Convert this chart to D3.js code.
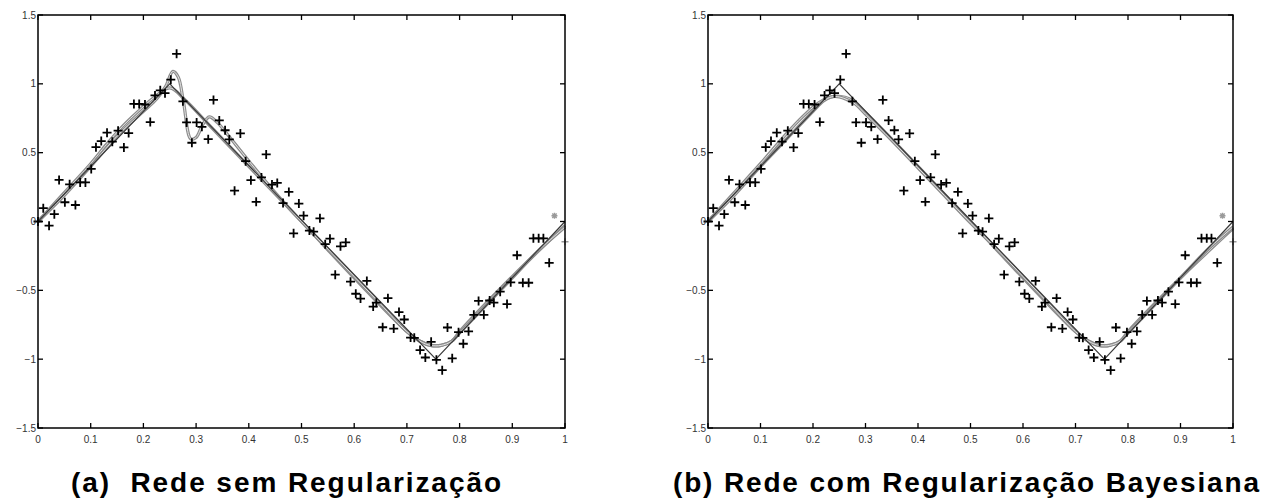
<!DOCTYPE html>
<html>
<head>
<meta charset="utf-8">
<script src="https://cdn.jsdelivr.net/npm/d3@7"></script>
<style>
  body { margin: 0; background: #fff; }
  svg { display: block; font-family: "Liberation Sans", Arial, sans-serif; }
</style>
</head>
<body>
<div id="wrapper"></div>
<script>
// training samples (same in both panels)
const sampleX = [0.000, 0.010, 0.021, 0.031, 0.040, 0.051, 0.060, 0.071, 0.080, 0.090,
  0.101, 0.110, 0.120, 0.131, 0.141, 0.152, 0.163, 0.172, 0.182, 0.192,
  0.203, 0.213, 0.222, 0.232, 0.241, 0.252, 0.263, 0.275, 0.282, 0.292,
  0.301, 0.311, 0.323, 0.333, 0.344, 0.355, 0.363, 0.373, 0.384, 0.394,
  0.404, 0.414, 0.424, 0.433, 0.444, 0.454, 0.465, 0.476, 0.485, 0.495,
  0.504, 0.515, 0.523, 0.535, 0.545, 0.554, 0.564, 0.574, 0.584, 0.593,
  0.603, 0.612, 0.624, 0.636, 0.642, 0.654, 0.664, 0.675, 0.685, 0.695,
  0.707, 0.714, 0.725, 0.735, 0.746, 0.756, 0.767, 0.777, 0.786, 0.798,
  0.807, 0.817, 0.827, 0.836, 0.846, 0.857, 0.865, 0.877, 0.890, 0.897,
  0.909, 0.920, 0.931, 0.940, 0.950, 0.959, 0.970]
const sampleY = [0.000, 0.097, -0.030, 0.053, 0.302, 0.140, 0.270, 0.120, 0.284, 0.284,
  0.382, 0.540, 0.584, 0.645, 0.580, 0.660, 0.538, 0.642, 0.854, 0.854,
  0.850, 0.722, 0.916, 0.953, 0.932, 1.030, 1.218, 0.873, 0.720, 0.572,
  0.720, 0.688, 0.598, 0.883, 0.734, 0.663, 0.596, 0.224, 0.640, 0.438,
  0.300, 0.143, 0.320, 0.487, 0.268, 0.280, 0.134, 0.215, -0.086, 0.130,
  0.042, -0.066, -0.074, 0.023, -0.165, -0.125, -0.386, -0.180, -0.152, -0.437,
  -0.525, -0.560, -0.432, -0.618, -0.590, -0.768, -0.557, -0.778, -0.658, -0.712,
  -0.843, -0.845, -0.934, -0.988, -0.874, -1.005, -1.080, -0.770, -0.994, -0.804,
  -0.888, -0.798, -0.678, -0.577, -0.678, -0.574, -0.590, -0.510, -0.600, -0.442,
  -0.245, -0.445, -0.445, -0.122, -0.122, -0.122, -0.300]
// grey markers at the right end
const greyX = [0.980, 1.000]
const greyY = [0.042, -0.147]

// target function (triangle)
const targetX = [0, 0.25, 0.755, 1]
const targetY = [0, 1, -1, 0]

// network outputs, panel (a)
const fitA1X = [0, 0.05, 0.10, 0.15, 0.20, 0.225, 0.242, 0.256, 0.266, 0.276, 0.29, 0.30, 0.312, 0.325, 0.34, 0.36, 0.40, 0.45, 0.50, 0.55, 0.60, 0.65, 0.70, 0.725, 0.745, 0.765, 0.785, 0.80, 0.85, 0.90, 0.95, 1.0]
const fitA1Y = [0, 0.19, 0.40, 0.62, 0.80, 0.89, 0.98, 1.09, 1.05, 0.87, 0.60, 0.61, 0.70, 0.76, 0.72, 0.63, 0.44, 0.21, 0.0, -0.2, -0.4, -0.6, -0.8, -0.87, -0.9, -0.9, -0.87, -0.81, -0.61, -0.41, -0.21, -0.04]
const fitA2X = [0, 0.05, 0.10, 0.13, 0.16, 0.19, 0.22, 0.25, 0.28, 0.32, 0.40, 0.50, 0.60, 0.70, 0.725, 0.745, 0.765, 0.785, 0.80, 0.90, 1.0]
const fitA2Y = [0, 0.21, 0.42, 0.56, 0.69, 0.80, 0.90, 0.97, 0.88, 0.72, 0.40, 0.0, -0.41, -0.80, -0.87, -0.9, -0.9, -0.87, -0.80, -0.40, -0.03]

// network outputs, panel (b)
const fitB1X = [0, 0.05, 0.10, 0.15, 0.20, 0.22, 0.235, 0.25, 0.265, 0.28, 0.30, 0.35, 0.40, 0.45, 0.50, 0.55, 0.60, 0.65, 0.70, 0.725, 0.745, 0.765, 0.785, 0.80, 0.85, 0.90, 0.95, 1.0]
const fitB1Y = [0, 0.19, 0.40, 0.60, 0.80, 0.875, 0.905, 0.905, 0.885, 0.855, 0.78, 0.59, 0.39, 0.19, -0.01, -0.2, -0.4, -0.6, -0.8, -0.87, -0.9, -0.9, -0.87, -0.81, -0.61, -0.41, -0.21, -0.04]
const fitB2X = [0, 0.05, 0.10, 0.15, 0.18, 0.21, 0.23, 0.25, 0.27, 0.30, 0.40, 0.50, 0.60, 0.70, 0.725, 0.745, 0.765, 0.785, 0.80, 0.90, 1.0]
const fitB2Y = [0, 0.21, 0.42, 0.64, 0.76, 0.86, 0.90, 0.91, 0.89, 0.79, 0.40, 0.0, -0.41, -0.80, -0.87, -0.9, -0.9, -0.87, -0.80, -0.41, -0.05]

const xTicks = [0, 0.1, 0.2, 0.3, 0.4, 0.5, 0.6, 0.7, 0.8, 0.9, 1]
const xTickLabels = ['0', '0.1', '0.2', '0.3', '0.4', '0.5', '0.6', '0.7', '0.8', '0.9', '1']
const yTicks = [-1.5, -1, -0.5, 0, 0.5, 1, 1.5]
const yTickLabels = ['\u22121.5', '\u22121', '\u22120.5', '0', '0.5', '1', '1.5']
const captions = ['(a)\u00a0 Rede sem Regularização', '(b) Rede com Regularização Bayesiana']

const width = 1273
const height = 503

const svg = d3.select('#wrapper').append('svg')
  .attr('width', width)
  .attr('height', height)

const panels = [
  { left: 38, right: 565, fits: [[fitA2X, fitA2Y], [fitA1X, fitA1Y]], caption: captions[0], capX: 71, capW: 430 },
  { left: 708, right: 1233, fits: [[fitB2X, fitB2Y], [fitB1X, fitB1Y]], caption: captions[1], capX: 673, capW: 586 },
]

const plotTop = 15
const plotBottom = 428
const tickLen = 5

const zip = (a, b) => a.map((v, i) => [v, b[i]])

panels.forEach(p => {
  const x = d3.scaleLinear().domain([0, 1]).range([p.left, p.right])
  const y = d3.scaleLinear().domain([-1.5, 1.5]).range([plotBottom, plotTop])
  const g = svg.append('g')

  const line = d3.line()
    .x(d => x(d[0]))
    .y(d => y(d[1]))
    .curve(d3.curveCatmullRom.alpha(0.5))

  // fits drawn as grey "tubes"
  p.fits.forEach(f => {
    const pts = zip(f[0], f[1])
    g.append('path').attr('d', line(pts))
      .attr('fill', 'none').attr('stroke', '#8c8c8c').attr('stroke-width', 3.2)
    g.append('path').attr('d', line(pts))
      .attr('fill', 'none').attr('stroke', '#e4e4e4').attr('stroke-width', 1)
  })

  // target
  g.append('path')
    .attr('d', d3.line().x(d => x(d[0])).y(d => y(d[1]))(zip(targetX, targetY)))
    .attr('fill', 'none').attr('stroke', '#3a3a3a').attr('stroke-width', 1.2)

  // samples
  g.selectAll('path.pt').data(zip(sampleX, sampleY)).enter()
    .append('path')
    .attr('class', 'pt')
    .attr('transform', d => 'translate(' + x(d[0]) + ',' + y(d[1]) + ')')
    .attr('d', 'M-4.5,0H4.5M0,-4.5V4.5')
    .attr('stroke', '#000').attr('stroke-width', 1.8)

  g.selectAll('path.grey').data(zip(greyX, greyY)).enter()
    .append('path')
    .attr('class', 'grey')
    .attr('transform', d => 'translate(' + x(d[0]) + ',' + y(d[1]) + ')')
    .attr('d', (d, i) => i === 0 ? 'M-3,0H3M0,-3V3M-2.2,-2.2L2.2,2.2M-2.2,2.2L2.2,-2.2' : 'M-3.5,0H3.5M0,-3.5V3.5')
    .attr('stroke', '#9a9a9a').attr('stroke-width', 1.4)

  // box
  g.append('rect')
    .attr('x', p.left).attr('y', plotTop)
    .attr('width', p.right - p.left).attr('height', plotBottom - plotTop)
    .attr('fill', 'none').attr('stroke', '#000').attr('stroke-width', 1.5)

  // ticks inward on all sides
  xTicks.forEach((t, i) => {
    g.append('line').attr('x1', x(t)).attr('x2', x(t)).attr('y1', plotBottom).attr('y2', plotBottom - tickLen)
      .attr('stroke', '#000').attr('stroke-width', 1.3)
    g.append('line').attr('x1', x(t)).attr('x2', x(t)).attr('y1', plotTop).attr('y2', plotTop + tickLen)
      .attr('stroke', '#000').attr('stroke-width', 1.3)
    g.append('text').attr('x', x(t)).attr('y', plotBottom + 15)
      .attr('text-anchor', 'middle').attr('font-size', 10).attr('fill', '#333')
      .text(xTickLabels[i])
  })
  yTicks.forEach((t, i) => {
    g.append('line').attr('x1', p.left).attr('x2', p.left + tickLen).attr('y1', y(t)).attr('y2', y(t))
      .attr('stroke', '#000').attr('stroke-width', 1.3)
    g.append('line').attr('x1', p.right).attr('x2', p.right - tickLen).attr('y1', y(t)).attr('y2', y(t))
      .attr('stroke', '#000').attr('stroke-width', 1.3)
    g.append('text').attr('x', p.left - 2).attr('y', y(t) + 3.5)
      .attr('text-anchor', 'end').attr('font-size', 10).attr('fill', '#333')
      .text(yTickLabels[i])
  })

  // caption
  g.append('text')
    .attr('x', p.capX).attr('y', 492)
    .attr('font-size', 28).attr('font-weight', 'bold').attr('fill', '#000')
    .attr('textLength', p.capW).attr('lengthAdjust', 'spacing')
    .text(p.caption)
})
</script>
</body>
</html>
